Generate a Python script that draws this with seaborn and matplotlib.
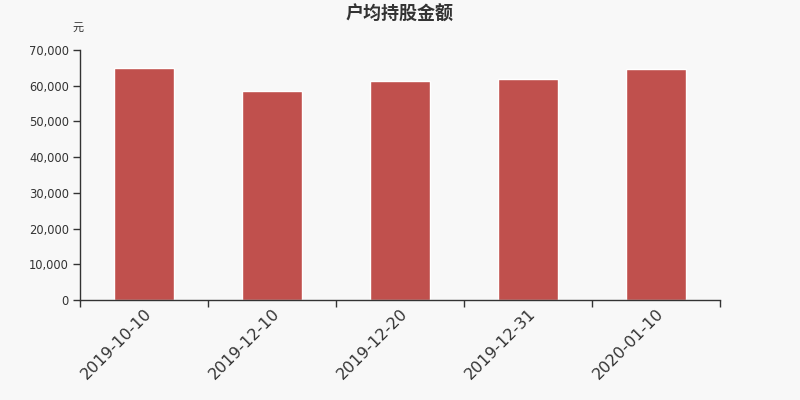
import numpy as np
import pandas as pd
import matplotlib
matplotlib.use('Agg')
import matplotlib.pyplot as plt
import seaborn as sns
from matplotlib.ticker import FuncFormatter, FixedLocator

dates = ['2019-10-10', '2019-12-10', '2019-12-20', '2019-12-31', '2020-01-10']
amounts = [65000, 58400, 61400, 61800, 64600]
y_ticks = [0, 10000, 20000, 30000, 40000, 50000, 60000, 70000]

sns.set_style('white')
plt.rcParams['font.family'] = ['DejaVu Sans', 'Noto Sans CJK SC']

bg = '#f8f8f8'
fig = plt.figure(figsize=(8, 4), dpi=100, facecolor=bg)
ax = fig.add_axes([0.1, 0.25, 0.8, 0.625], facecolor=bg)

df = pd.DataFrame({'date': dates, 'amount': amounts})
sns.barplot(data=df, x='date', y='amount', color='#c0504d', saturation=1,
            width=0.47, ax=ax)

ax.set_xlim(-0.5, len(dates) - 0.5)
ax.set_ylim(0, 70000)
ax.yaxis.set_major_locator(FixedLocator(y_ticks))
ax.yaxis.set_major_formatter(FuncFormatter(lambda v, p: f'{int(v):,}'))

# ticks on category boundaries, labels at centres
ax.set_xticks(np.arange(len(dates) + 1) - 0.5)
ax.set_xticklabels([])
ax.set_xticks(np.arange(len(dates)), minor=True)
ax.set_xticklabels(dates, minor=True, rotation=45, ha='right', va='top',
                   rotation_mode='anchor', fontsize=11.5, color='#333333')
ax.tick_params(axis='x', which='major', bottom=True, length=5, width=1,
               color='#333333', direction='out')
ax.tick_params(axis='x', which='minor', bottom=True, length=0, pad=4)
ax.tick_params(axis='y', left=True, length=5, width=1, color='#333333', direction='out',
               labelsize=8.3, labelcolor='#333333', pad=3)

for s in ['top', 'right']:
    ax.spines[s].set_visible(False)
for s in ['left', 'bottom']:
    ax.spines[s].set_color('#333333')
    ax.spines[s].set_linewidth(1)

ax.set_xlabel('')
ax.set_ylabel('')

fig.text(0.5, 0.965, '户均持股金额', ha='center', va='center', fontsize=13,
         fontweight='bold', color='#333333', family=['Noto Sans CJK SC', 'DejaVu Sans'])
fig.text(0.098, 0.93, '元', ha='center', va='center', fontsize=8,
         color='#333333', family=['Noto Sans CJK SC', 'DejaVu Sans'])

fig.savefig('out.png', dpi=100, facecolor=bg)
